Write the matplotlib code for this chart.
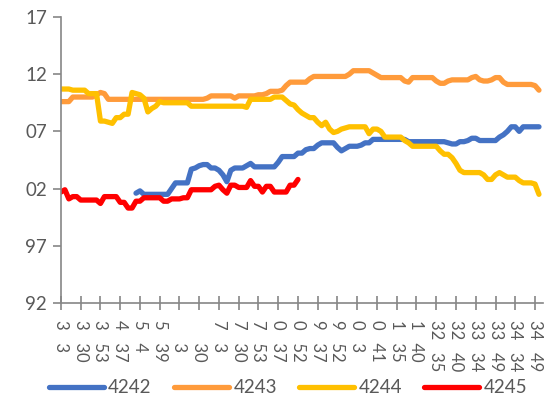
import matplotlib
matplotlib.use("Agg")
import matplotlib.pyplot as plt
from matplotlib.ticker import FuncFormatter

plt.rcParams['font.family'] = ['Lato', 'DejaVu Sans']

# tick labels along the category axis (one every 5 points)
tick_labels = ["3   3", "3   30", "3   53", "4   37", "5   4", "5   39", "\u2007   3", "\u2007   30",
               "7   3", "7   30", "7   53", "0   37", "0   52", "9   37", "9   52", "0   3", "0   41",
               "1   35", "1   40", "32   35", "32   40", "33   34", "33   49", "34   34", "34   49"]

s4243 = [109.6, 109.6, 109.6, 110.0, 110.0, 110.0, 110.0, 110.0, 110.0, 110.2,
         110.4, 110.3, 109.8, 109.8, 109.8, 109.8, 109.8, 109.8, 109.8, 109.8,
         109.8, 109.8, 109.8, 109.8, 109.8, 109.8, 109.8, 109.8, 109.8, 109.8,
         109.8, 109.8, 109.8, 109.8, 109.8, 109.8, 109.8, 109.9, 110.1, 110.1,
         110.1, 110.1, 110.1, 110.1, 109.9, 110.1, 110.1, 110.1, 110.1, 110.1,
         110.2, 110.2, 110.3, 110.5, 110.5, 110.5, 110.6, 111.0, 111.3, 111.3,
         111.3, 111.3, 111.3, 111.6, 111.8, 111.8, 111.8, 111.8, 111.8, 111.8,
         111.8, 111.8, 111.8, 112.0, 112.3, 112.3, 112.3, 112.3, 112.3, 112.1,
         111.9, 111.7, 111.7, 111.7, 111.7, 111.7, 111.7, 111.4, 111.3, 111.7,
         111.7, 111.7, 111.7, 111.7, 111.7, 111.4, 111.2, 111.2, 111.4, 111.5,
         111.5, 111.5, 111.5, 111.5, 111.7, 111.8, 111.5, 111.4, 111.4, 111.5,
         111.7, 111.7, 111.3, 111.1, 111.1, 111.1, 111.1, 111.1, 111.1, 111.1,
         111.0, 110.6]

s4244 = [110.7, 110.7, 110.7, 110.6, 110.6, 110.6, 110.6, 110.3, 110.3, 110.3,
         107.9, 107.9, 107.8, 107.7, 108.2, 108.2, 108.5, 108.5, 110.4, 110.3,
         110.2, 109.9, 108.7, 109.0, 109.2, 109.6, 109.5, 109.5, 109.5, 109.5,
         109.5, 109.5, 109.5, 109.2, 109.2, 109.2, 109.2, 109.2, 109.2, 109.2,
         109.2, 109.2, 109.2, 109.2, 109.2, 109.2, 109.2, 109.1, 109.8, 109.8,
         109.8, 109.8, 109.8, 109.8, 110.0, 110.0, 110.0, 109.7, 109.4, 109.3,
         108.9, 108.6, 108.4, 108.2, 108.2, 107.8, 107.5, 107.8, 107.2, 106.9,
         107.0, 107.2, 107.3, 107.4, 107.4, 107.4, 107.4, 107.4, 106.8, 107.2,
         107.2, 107.0, 106.5, 106.5, 106.5, 106.5, 106.5, 106.2, 106.0, 105.7,
         105.7, 105.7, 105.7, 105.7, 105.7, 105.7, 105.3, 105.0, 105.0, 104.7,
         104.2, 103.6, 103.4, 103.4, 103.4, 103.4, 103.4, 103.2, 102.8, 102.8,
         103.2, 103.4, 103.2, 103.0, 103.0, 103.0, 102.7, 102.5, 102.5, 102.5,
         102.4, 101.5]

# 4242 starts at point 19
s4242_start = 19
s4242 = [101.6, 101.8, 101.5, 101.5, 101.5, 101.5, 101.5, 101.5, 101.5, 102.0,
         102.5, 102.5, 102.5, 102.5, 103.7, 103.8, 104.0, 104.1, 104.1, 103.8,
         103.8, 103.6, 103.2, 102.6, 103.6, 103.8, 103.8, 103.8, 104.0, 104.2,
         103.9, 103.9, 103.9, 103.9, 103.9, 103.9, 104.3, 104.8, 104.8, 104.8,
         104.8, 105.1, 105.1, 105.4, 105.5, 105.5, 105.8, 106.0, 106.0, 106.0,
         106.0, 105.6, 105.3, 105.5, 105.7, 105.7, 105.7, 105.8, 106.0, 106.0,
         106.3, 106.3, 106.3, 106.3, 106.3, 106.3, 106.3, 106.3, 106.3, 106.1,
         106.1, 106.1, 106.1, 106.1, 106.1, 106.1, 106.1, 106.1, 106.1, 106.0,
         105.9, 105.9, 106.1, 106.1, 106.2, 106.4, 106.4, 106.2, 106.2, 106.2,
         106.2, 106.2, 106.5, 106.7, 107.0, 107.4, 107.4, 107.0, 107.4, 107.4,
         107.4, 107.4, 107.4]

s4245 = [101.7, 101.9, 101.1, 101.3, 101.3, 101.0, 101.0, 101.0, 101.0, 101.0,
         100.7, 101.3, 101.3, 101.3, 101.3, 100.8, 100.8, 100.3, 100.3, 100.9,
         100.9, 101.2, 101.2, 101.2, 101.2, 101.2, 100.9, 100.9, 101.1, 101.1,
         101.1, 101.2, 101.2, 101.9, 101.9, 101.9, 101.9, 101.9, 101.9, 102.2,
         102.3, 101.9, 101.6, 102.3, 102.3, 102.1, 102.1, 102.1, 102.7, 102.2,
         102.2, 101.7, 102.2, 102.2, 101.7, 101.7, 101.7, 101.7, 102.3, 102.3,
         102.8]

fig = plt.figure(figsize=(5.54, 4.03), dpi=100)
ax = fig.add_axes([0.110, 0.248, 0.870, 0.710])

lw = 3.8
ax.plot(range(s4242_start, s4242_start + len(s4242)), s4242, color='#4472C4', lw=lw, label='4242',
        solid_capstyle='round', solid_joinstyle='round')
ax.plot(range(len(s4243)), s4243, color='#FF9B3B', lw=lw, label='4243',
        solid_capstyle='round', solid_joinstyle='round')
ax.plot(range(len(s4244)), s4244, color='#FFC000', lw=lw, label='4244',
        solid_capstyle='round', solid_joinstyle='round')
ax.plot(range(len(s4245)), s4245, color='#FF0000', lw=lw, label='4245',
        solid_capstyle='round', solid_joinstyle='round')

ax.set_xlim(0, 122)
ax.set_ylim(92, 117)
ax.set_yticks(range(92, 118, 5))
ax.yaxis.set_major_formatter(FuncFormatter(lambda v, p: '%02d' % (int(round(v)) % 100)))
ax.set_xticks(range(0, 121, 5))
ax.set_xticklabels(tick_labels, rotation=-90, ha='center', va='top', fontsize=12,
                   color='#595959')

for side in ['top', 'right']:
    ax.spines[side].set_visible(False)
for side in ['left', 'bottom']:
    ax.spines[side].set_color('#868686')
    ax.spines[side].set_linewidth(1.2)

ax.tick_params(axis='y', direction='out', length=6, width=1.2, color='#868686',
               labelsize=13.5, labelcolor='#595959', pad=4)
ax.tick_params(axis='x', direction='inout', length=10, width=1.2, color='#868686', pad=7)

fig.legend(loc='lower center', bbox_to_anchor=(0.52, -0.025), ncol=4, frameon=False,
           fontsize=13.5, handlelength=2.9, columnspacing=1.2, handletextpad=0.25,
           labelcolor='#595959')

fig.savefig('out.png', dpi=100)
